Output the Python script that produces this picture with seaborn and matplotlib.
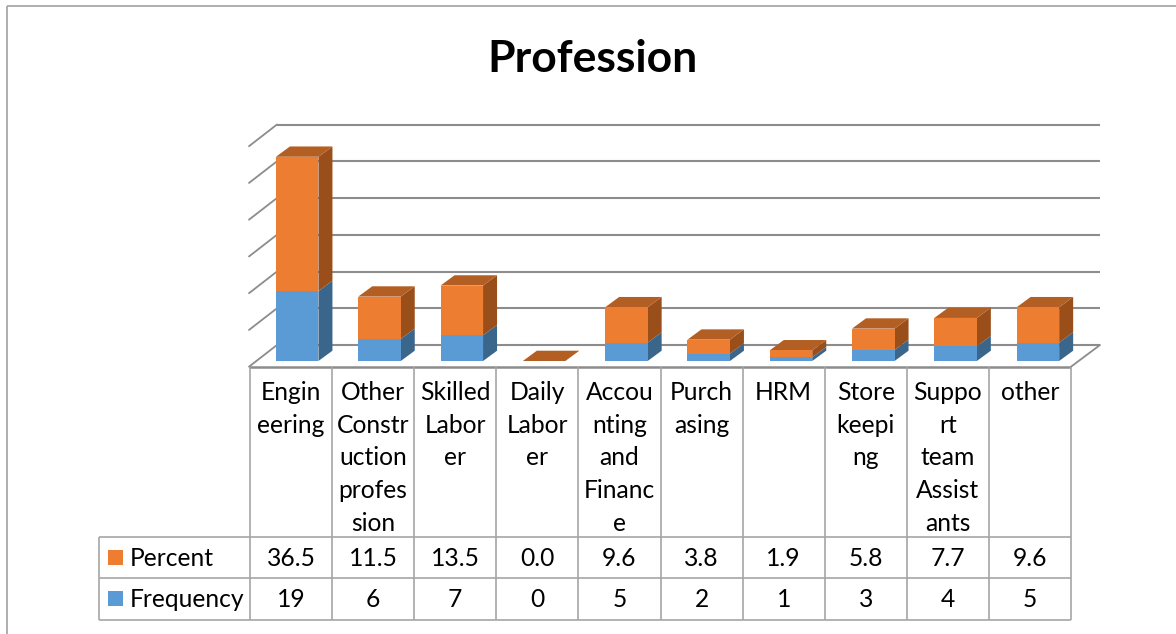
import matplotlib
matplotlib.use("Agg")
import matplotlib.pyplot as plt
import seaborn as sns
import pandas as pd

categories = ["Engineering", "Other Construction profession", "Skilled Labor", "Daily Labor",
              "Accounting and Finance", "Purchasing", "HRM", "Store keeping",
              "Support team Assistants", "other"]
wrapped_labels = ["Engin\neering", "Other\nConstr\nuction\nprofes\nsion", "Skilled\nLabor\ner", "Daily\nLabor\ner",
                  "Accou\nnting\nand\nFinanc\ne", "Purch\nasing", "HRM", "Store\nkeepi\nng",
                  "Suppo\nrt\nteam\nAssist\nants", "other"]
frequency = [19, 6, 7, 0, 5, 2, 1, 3, 4, 5]
percent = [36.5, 11.5, 13.5, 0.0, 9.6, 3.8, 1.9, 5.8, 7.7, 9.6]
title = "Profession"

W, H = 1176, 634
ORANGE, ORANGE_SIDE, ORANGE_TOP = "#ED7D31", "#9A4F1B", "#B35E22"
BLUE, BLUE_SIDE = "#5B9BD5", "#3A668C"
GRID = "#8C8C8C"
TABLE = "#A6A6A6"
FONT = "Lato"
FS = 17.7

sns.set_theme(style="white")
plt.rcParams["font.family"] = [FONT, "DejaVu Sans"]
fig = plt.figure(figsize=(W / 100, H / 100), dpi=100, facecolor="white")

# chrome layer in pixel coordinates
bg = fig.add_axes([0, 0, 1, 1], zorder=0)
bg.set_xlim(0, W)
bg.set_ylim(H, 0)
bg.axis("off")

# chart border: only the top and left edges show
bg.plot([6.5, 1176], [5.5, 5.5], color="#A8A8A8", lw=1.3, solid_capstyle="butt")
bg.plot([6.5, 6.5], [5.5, 634], color="#A8A8A8", lw=1.3, solid_capstyle="butt")

# back wall and depth ticks
n_grid = 7
back_y = [345 - 36.75 * i for i in range(n_grid)]
for i, y in enumerate(back_y):
    bg.plot([277, 1100], [y, y], color=GRID, lw=1.5, solid_capstyle="butt")
    bg.plot([249, 277], [y + 21.7, y], color=GRID, lw=1.3)
bg.plot([1071, 1100], [366.7, 345], color=GRID, lw=1.3)
bg.plot([249, 1071], [366.7, 366.7], color=GRID, lw=1.8, solid_capstyle="butt")

# data table
cell_w = (1071 - 250) / len(categories)
col_x = [250 + cell_w * i for i in range(len(categories) + 1)]
row_top, row_a, row_b, row_c = 367, 536.7, 578.3, 620
for x in col_x:
    bg.plot([x, x], [row_top, row_c], color=TABLE, lw=1.2, solid_capstyle="butt")
for y in (row_a, row_b, row_c):
    bg.plot([99, 1071], [y, y], color=TABLE, lw=1.2, solid_capstyle="butt")
bg.plot([99, 99], [row_a, row_c], color=TABLE, lw=1.2, solid_capstyle="butt")

for i, lab in enumerate(wrapped_labels):
    cx = col_x[i] + cell_w / 2
    for j, line in enumerate(lab.split("\n")):
        bg.text(cx, 392.5 + 32.7 * j, line, ha="center", va="center", fontsize=FS, color="black")
    bg.text(cx, 558.5, f"{percent[i]:.1f}", ha="center", va="center", fontsize=FS, color="black")
    bg.text(cx, 599.5, f"{frequency[i]}", ha="center", va="center", fontsize=FS, color="black")

for y, c, name in ((557.5, ORANGE, "Percent"), (598.5, BLUE, "Frequency")):
    bg.fill([108, 123, 123, 108], [y - 7.5, y - 7.5, y + 7.5, y + 7.5], color=c, lw=0)
    bg.text(130, y + 1, name, ha="left", va="center", fontsize=FS, color="black")

bg.text(592.5, 58.5, title, ha="center", va="center", fontsize=32, fontweight="bold", color="black")

# bars layer: category x-axis, value y-axis
PX_PER_UNIT = 3.68
PX_PER_CAT = 82.3
left, right = 297.2 - PX_PER_CAT / 2, 297.2 + 9.5 * PX_PER_CAT
base_px, y_max = 361, 60
top_px = base_px - y_max * PX_PER_UNIT
ax = fig.add_axes([left / W, 1 - base_px / H, (right - left) / W, (base_px - top_px) / H],
                  zorder=1, facecolor="none")
df = pd.DataFrame({"category": categories, "frequency": frequency, "percent": percent})
BAR_W = 42.5 / PX_PER_CAT
sns.barplot(data=df, x="category", y="frequency", color=BLUE, saturation=1, width=BAR_W,
            ax=ax, linewidth=0, zorder=3)
n_blue = len(ax.patches)
sns.barplot(data=df, x="category", y="percent", bottom=df["frequency"], color=ORANGE, saturation=1,
            width=BAR_W, ax=ax, linewidth=0, zorder=3)
ax.set_xlim(-0.5, 9.5)
ax.set_ylim(0, y_max)
ax.axis("off")

# extruded 3D faces derived from the bars
dx, dy = 14 / PX_PER_CAT, 10.3 / PX_PER_UNIT
for k, p in enumerate(ax.patches):
    x0, x1 = p.get_x(), p.get_x() + p.get_width()
    y0, y1 = p.get_y(), p.get_y() + p.get_height()
    side = BLUE_SIDE if k < n_blue else ORANGE_SIDE
    ax.fill([x1, x1 + dx, x1 + dx, x1], [y0, y0 + dy, y1 + dy, y1], color=side, lw=0, zorder=2)
    if k >= n_blue:
        ax.fill([x0, x1, x1 + dx, x0 + dx], [y1, y1, y1 + dy, y1 + dy], color=ORANGE_TOP, lw=0, zorder=2)

fig.savefig("out.png", dpi=100, facecolor="white")
